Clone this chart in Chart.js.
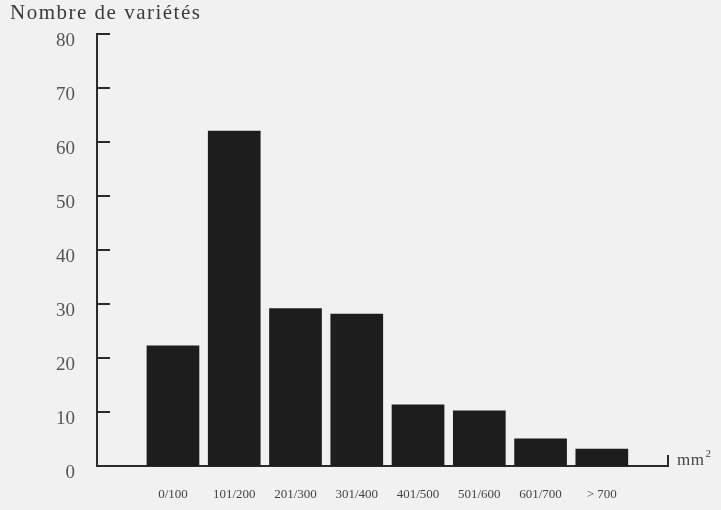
<!DOCTYPE html>
<html>
<head>
<meta charset="utf-8">
<script src="https://cdn.jsdelivr.net/npm/chart.js@4.4.1/dist/chart.umd.min.js"></script>
<style>
  html, body { margin: 0; padding: 0; background: #f1f1f1; }
  #wrap { width: 721px; height: 510px; position: relative; }
</style>
</head>
<body>
<div id="wrap"><canvas id="chart" width="721" height="510"></canvas></div>
<script>
// données
const classes = ['0/100', '101/200', '201/300', '301/400', '401/500', '501/600', '601/700', '> 700'];
const varietes = [22.3, 62.1, 29.2, 28.2, 11.4, 10.3, 5.1, 3.2];
const yTicks = [0, 10, 20, 30, 40, 50, 60, 70, 80];
const yTitle = 'Nombre de variétés';
const xUnit = 'mm';

const ink = '#2b2b2b';
const serif = '"Liberation Serif", "DejaVu Serif", serif';

// petits traits intérieurs de l'axe vertical, titre et unité
const decorations = {
  id: 'decorations',
  afterDraw(chart) {
    const ctx = chart.ctx;
    const y = chart.scales.y;
    const area = chart.chartArea;
    ctx.save();
    ctx.strokeStyle = ink;
    ctx.lineWidth = 2;
    yTicks.forEach(v => {
      if (v === 0) return;
      const py = y.getPixelForValue(v);
      ctx.beginPath();
      ctx.moveTo(area.left, py);
      ctx.lineTo(area.left + 13, py);
      ctx.stroke();
    });
    // petit trait au bout de l'axe horizontal
    ctx.beginPath();
    ctx.moveTo(area.right, area.bottom + 1);
    ctx.lineTo(area.right, area.bottom - 11);
    ctx.stroke();

    ctx.fillStyle = '#3a3a3a';
    ctx.font = '21px ' + serif;
    ctx.letterSpacing = '1.5px';
    ctx.textBaseline = 'alphabetic';
    ctx.textAlign = 'left';
    ctx.fillText(yTitle, 10, 19);

    ctx.letterSpacing = '0.5px';
    ctx.font = '17px ' + serif;
    ctx.fillStyle = '#444';
    ctx.fillText(xUnit, area.right + 9, area.bottom - 1);
    const w = ctx.measureText(xUnit).width;
    ctx.font = '11px ' + serif;
    ctx.fillText('2', area.right + 9 + w + 1, area.bottom - 9);
    ctx.restore();
  }
};

new Chart(document.getElementById('chart'), {
  type: 'bar',
  data: {
    datasets: [{
      data: varietes.map((v, i) => ({ x: i, y: v })),
      backgroundColor: '#1d1d1d',
      borderWidth: 0,
      barPercentage: 0.86,
      categoryPercentage: 1
    }]
  },
  options: {
    responsive: false,
    animation: false,
    layout: { padding: { top: 34, right: 53, left: 0, bottom: 0 } },
    plugins: { legend: { display: false }, tooltip: { enabled: false } },
    scales: {
      x: {
        type: 'linear',
        offset: false,
        min: -1.24,
        max: 8.08,
        afterBuildTicks: s => { s.ticks = classes.map((c, i) => ({ value: i })); },
        afterFit: s => { s.height = 44; },
        grid: { display: false, offset: false },
        border: { display: true, color: ink, width: 2 },
        ticks: {
          padding: 13,
          color: '#444',
          font: { family: serif, size: 13 },
          autoSkip: false,
          maxRotation: 0,
          callback: v => classes[v] ?? ''
        }
      },
      y: {
        min: 0,
        max: 80,
        afterBuildTicks: s => { s.ticks = yTicks.map(v => ({ value: v })); },
        afterFit: s => { s.width = 97; },
        grid: { display: false },
        border: { display: true, color: ink, width: 2 },
        ticks: {
          padding: 14,
          labelOffset: 7,
          color: '#555',
          font: { family: serif, size: 19 }
        }
      }
    }
  },
  plugins: [decorations]
});
</script>
</body>
</html>
